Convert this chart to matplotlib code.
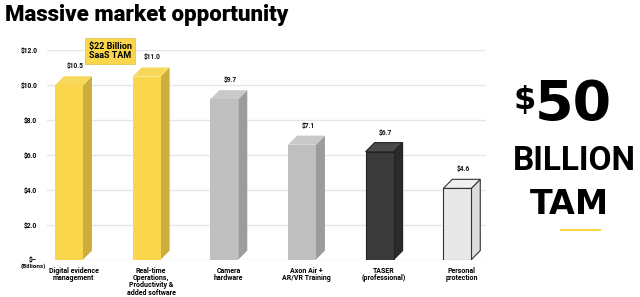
import matplotlib
matplotlib.use("Agg")
import matplotlib.pyplot as plt
from matplotlib.patches import Polygon

plt.rcParams['font.family'] = ['Roboto', 'DejaVu Sans']

# Data
categories = ["Digital evidence\nmanagement", "Real-time\nOperations,\nProductivity &\nadded software",
              "Camera\nhardware", "Axon Air +\nAR/VR Training", "TASER\n(professional)", "Personal\nprotection"]
values = [10.5, 11.0, 9.7, 7.1, 6.7, 4.6]
value_labels = ["$10.5", "$11.0", "$9.7", "$7.1", "$6.7", "$4.6"]
yticks = [0, 2, 4, 6, 8, 10, 12]
ytick_labels = ["", "$2.0", "$4.0", "$6.0", "$8.0", "$10.0", "$12.0"]

# (front, side, top, edge)
colors = [
    ("#F9D64C", "#CBAE3C", "#F7D85A", "none"),
    ("#F9D64C", "#CBAE3C", "#F7D85A", "none"),
    ("#BFBFBF", "#9C9C9C", "#C9C9C9", "none"),
    ("#BFBFBF", "#9C9C9C", "#C9C9C9", "none"),
    ("#3B3B3B", "#2A2A2A", "#4A4A4A", "#222222"),
    ("#E8E8E8", "#DCDCDC", "#F0F0F0", "#333333"),
]

fig = plt.figure(figsize=(6.4, 2.97), dpi=100)
ax = fig.add_axes([0.0734, 0.1256, 0.686, 0.706])

w = 0.36    # front face width
dx = 0.116  # depth, x units
dy = 0.52   # depth, y units

for i, v in enumerate(values):
    front, side, top, edge = colors[i]
    lw = 0.8 if edge != "none" else 0
    h = v - dy
    x0, x1 = i - w / 2, i + w / 2
    ax.add_patch(Polygon([(x1, 0), (x1 + dx, dy), (x1 + dx, v), (x1, h)],
                         closed=True, facecolor=side, edgecolor=edge, linewidth=lw, zorder=3))
    ax.add_patch(Polygon([(x0, h), (x1, h), (x1 + dx, v), (x0 + dx, v)],
                         closed=True, facecolor=top, edgecolor=edge, linewidth=lw, zorder=3))
    ax.bar(i, h, width=w, bottom=0, color=front, edgecolor=edge, linewidth=lw, zorder=4)
    ax.text(i + dx / 2 + 0.02, v + 0.35, value_labels[i], ha="center", va="bottom",
            fontsize=4.8, fontweight="bold", color="#111111")

ax.set_xlim(-0.283, 5.37)
ax.set_ylim(0, 12)
ax.set_yticks(yticks)
ax.set_yticklabels(ytick_labels, fontsize=4.8, fontweight="bold")
ax.set_xticks([i + dx / 2 for i in range(len(values))])
ax.set_xticklabels(categories, fontsize=5, fontweight="bold", linespacing=0.9, va="top")
ax.tick_params(length=0, pad=7)
ax.tick_params(axis="x", pad=5)
ax.grid(axis="y", color="#E6E6E6", linewidth=1, zorder=0)
for s in ax.spines.values():
    s.set_visible(False)
ax.text(-0.032, 0, "$\u2013", transform=ax.get_yaxis_transform(), ha="center", va="center",
        fontsize=4.8, fontweight="bold")
ax.text(-0.032, -0.38, "(Billions)", transform=ax.get_yaxis_transform(), ha="center", va="center",
        fontsize=4.5, fontweight="bold")

# Title
fig.text(0.008, 0.95, "Massive market opportunity", fontsize=16, fontweight=900, va="center")

# Callout box
fig.text(0.172, 0.828, "$22 Billion\nSaaS TAM", fontsize=6.5, fontweight="bold", ha="center", va="center",
         linespacing=1.1,
         bbox=dict(boxstyle="square,pad=0.4", facecolor="#F9D64C", edgecolor="#E0C040", linewidth=0.5))

# Right side TAM
fig.text(0.837, 0.66, "$", fontsize=23, fontweight="bold", ha="right", va="center", family="DejaVu Sans")
fig.text(0.836, 0.646, "50", fontsize=40, fontweight="bold", ha="left", va="center", family="DejaVu Sans")
fig.text(0.897, 0.457, "BILLION", fontsize=24, fontweight="bold", ha="center", va="center")
fig.text(0.89, 0.31, "TAM", fontsize=24, fontweight="bold", ha="center", va="center", family="DejaVu Sans")
fig.add_artist(plt.Line2D([0.877, 0.937], [0.226, 0.226], color="#F9D64C", linewidth=1.5))

fig.savefig("out.png", dpi=100)
